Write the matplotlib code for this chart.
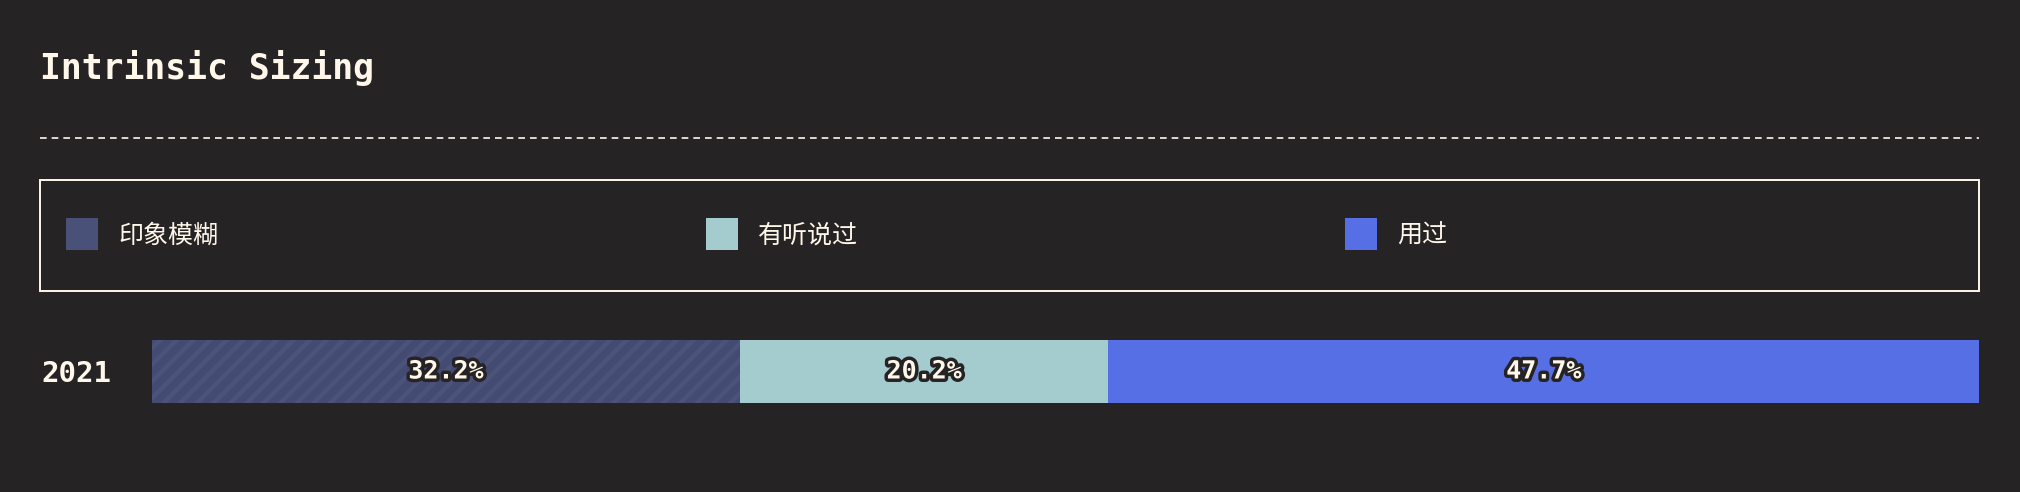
import matplotlib
matplotlib.use("Agg")
import matplotlib.pyplot as plt
import matplotlib.patheffects as pe
from matplotlib.patches import Rectangle, Patch
from matplotlib.lines import Line2D

BG = "#262325"; INK = "#fff8ea"
MONO = ["DejaVu Sans Mono"]
CJK = ["Noto Sans CJK SC", "DejaVu Sans"]
plt.rcParams["hatch.linewidth"] = 3.3

# ---------- data ----------
years = ["2021"]
categories = ["印象模糊", "有听说过", "用过"]
values = [32.2, 20.2, 47.7]
colors = ["#444b72", "#a4cbce", "#566fe5"]
hatches = ["//", None, None]
hatch_colors = ["#4c537b", None, None]

W, H = 2020, 492
fig = plt.figure(figsize=(W / 100, H / 100), dpi=100, facecolor=BG)

def fx(px): return px / W
def fy(py): return 1 - py / H

# title + dashed rule
fig.text(fx(40), fy(68), "Intrinsic Sizing", family=MONO, fontweight="bold",
         fontsize=25, color=INK, va="center", ha="left")
fig.add_artist(Line2D([fx(40), fx(1979)], [fy(138), fy(138)], transform=fig.transFigure,
                      color=INK, lw=1.2, dashes=(4, 3)))

# legend box
fig.add_artist(Rectangle((fx(40), fy(291)), fx(1979) - fx(40), fy(180) - fy(291),
                         transform=fig.transFigure, fill=False, ec=INK, lw=1.4))
handles = [Patch(facecolor=c, edgecolor="none") for c in
           ["#4a5178", colors[1], colors[2]]]
leg = fig.legend(handles, categories, ncol=3, loc="center left",
                 bbox_to_anchor=(fx(66), fy(234)), frameon=False,
                 prop=dict(family=CJK, size=18), labelcolor=INK,
                 handlelength=1.28, handleheight=1.55, handletextpad=0.8,
                 columnspacing=19.5, borderpad=0, borderaxespad=0)

# stacked bar
ax = fig.add_axes([fx(152), fy(403), fx(1979) - fx(152), fy(340) - fy(403)])
ax.set_facecolor(BG)
left = 0
for cat, v, c, h, hc in zip(categories, values, colors, hatches, hatch_colors):
    if h:
        bars = ax.barh(years, [v], left=left, height=1.0, color=c, edgecolor=hc,
                       linewidth=0, hatch=h)
    else:
        bars = ax.barh(years, [v], left=left, height=1.0, color=c, linewidth=0)
    ax.bar_label(bars, labels=[f"{v}%"], label_type="center", family=MONO,
                 fontweight="bold", fontsize=18, color=INK,
                 path_effects=[pe.Stroke(linewidth=5, foreground=BG), pe.Normal()])
    left += v
ax.set_xlim(0, sum(values))
ax.set_ylim(-0.5, 0.5)
ax.set_xticks([])
ax.tick_params(axis="y", length=0, pad=29)
for t in ax.get_yticklabels():
    t.set_family(MONO); t.set_fontweight("bold"); t.set_fontsize(21); t.set_color(INK)
for s in ax.spines.values():
    s.set_visible(False)

fig.savefig("out.png", dpi=100, facecolor=BG)
